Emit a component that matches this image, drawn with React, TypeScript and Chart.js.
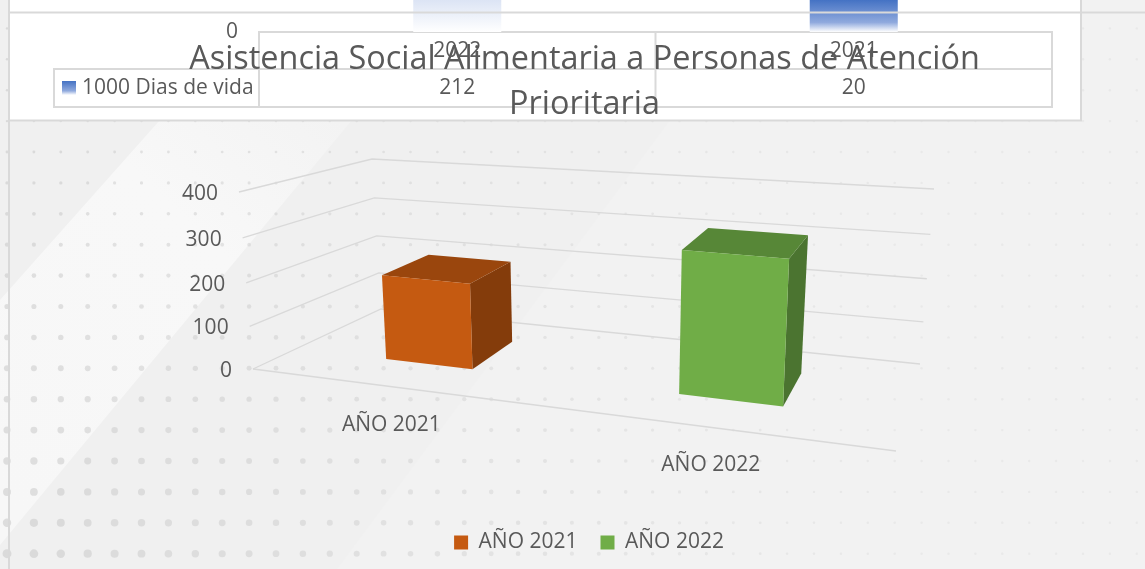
import React, { useEffect, useRef } from "react";
import { Chart, registerables, BarController, BarElement } from "chart.js";

Chart.register(...registerables);

// ---- data ----
const categories = ["AÑO 2021", "AÑO 2022"];
const attendance = [200, 315];
const barColors = ["#c55a11", "#70ad47"];
const titleLines = ["Asistencia Social Alimentaria a Personas de Atención", "Prioritaria"];
const valueMax = 400;
const valueStep = 100;

const tableSeries = "1000 Dias de vida";
const tableYears = ["2022", "2021"];
const tableValues = [212, 20];

const FONT = '"Open Sans", sans-serif';
const TEXT = "#595959";
const LINE = "#d9d9d9";

// ---- perspective box of the 3D plot ----
type P = [number, number];
const floorFL: P = [253, 369], floorFR: P = [896, 451], floorBL: P = [381, 309], floorBR: P = [920, 364];
const topFL: P = [239, 192], topFR: P = [908, 245], topBL: P = [372, 159], topBR: P = [934, 189];
const lerp = (a: P, b: P, t: number): P => [a[0] + (b[0] - a[0]) * t, a[1] + (b[1] - a[1]) * t];
const perspU = (u: number) => (0.83 * u) / (1 - 0.17 * u);
const perspV = (v: number) => (0.95 * v) / (1 - 0.05 * v);
function project(u: number, v: number, w: number): P {
  const pu = perspU(u);
  const low = lerp(lerp(floorFL, floorFR, pu), lerp(floorBL, floorBR, pu), w);
  const high = lerp(lerp(topFL, topFR, pu), lerp(topBL, topBR, pu), w);
  return lerp(low, high, perspV(v));
}
const DEPTH_FRONT = 0.345;
const DEPTH_BACK = 0.75;

function shade(hex: string, f: number) {
  const n = parseInt(hex.slice(1), 16);
  return `rgb(${Math.round((n >> 16) * f)},${Math.round(((n >> 8) & 255) * f)},${Math.round((n & 255) * f)})`;
}
function poly(ctx: CanvasRenderingContext2D, pts: P[], fill: any) {
  ctx.beginPath();
  pts.forEach((p, i) => (i ? ctx.lineTo(p[0], p[1]) : ctx.moveTo(p[0], p[1])));
  ctx.closePath();
  ctx.fillStyle = fill;
  ctx.fill();
}

class Bar3DElement extends BarElement {
  static id = "bar3d";
  static defaults = BarElement.defaults;
  static defaultRoutes = BarElement.defaultRoutes;
  draw(ctx: CanvasRenderingContext2D, area?: any) {
    const self = this as any;
    const uL = (self.x - self.width / 2 - area.left) / area.width;
    const uR = (self.x + self.width / 2 - area.left) / area.width;
    const v = (area.bottom - self.y) / area.height;
    const v0 = (area.bottom - self.base) / area.height;
    const color = self.options.backgroundColor as string;
    const fbl = project(uL, v0, DEPTH_FRONT), fbr = project(uR, v0, DEPTH_FRONT);
    const ftl = project(uL, v, DEPTH_FRONT), ftr = project(uR, v, DEPTH_FRONT);
    const bbr = project(uR, v0, DEPTH_BACK);
    const btl = project(uL, v, DEPTH_BACK), btr = project(uR, v, DEPTH_BACK);
    poly(ctx, [ftr, btr, bbr, fbr], shade(color, 0.67));
    poly(ctx, [ftl, btl, btr, ftr], shade(color, 0.78));
    poly(ctx, [ftl, ftr, fbr, fbl], color);
  }
}
class Bar3DController extends BarController {
  static id = "bar3d";
  static defaults = { ...BarController.defaults, dataElementType: "bar3d" };
  static overrides = BarController.overrides;
  draw() {
    const self = this as any;
    self._cachedMeta.data.forEach((el: any) => el.draw(self._ctx, self.chart.chartArea));
  }
}
Chart.register(Bar3DElement as any, Bar3DController as any);

// ---- painted backdrop, panel and data-table frame ----
const TABLE = { left: 259, mid: 655.5, right: 1052, keyLeft: 54, rows: [32, 69, 107] };
const backdrop = {
  id: "backdrop",
  beforeDraw(chart: any) {
    const ctx = chart.ctx as CanvasRenderingContext2D;
    const W = chart.width, H = chart.height;
    ctx.save();
    ctx.fillStyle = "#f0f0f0";
    ctx.fillRect(0, 0, W, H);
    poly(ctx, [[670, 120], [1081, 120], [1081, 0], [W, 0], [W, H], [337, H]], "#f2f2f2");
    const g = ctx.createLinearGradient(0, 500, 350, 130);
    g.addColorStop(0, "#f7f7f7");
    g.addColorStop(0.65, "#f8f8f8");
    g.addColorStop(1, "#f3f3f3");
    poly(ctx, [[160, 120], [352, 120], [0, 545], [0, 300]], g);
    for (let k = -5; k < 14; k++) {
      for (let i = 0; i < 43; i++) {
        const x = 7 + 26.9 * i, y = 152 + 30.9 * k;
        const ty = Math.max(0, Math.min(1, (y - 120) / 450));
        const tx = Math.max(0, 1 - x / 800);
        const r = 1.2 + 3.4 * ty * tx;
        ctx.fillStyle = `rgba(190,190,190,${0.17 + 0.27 * Math.max(0, 1 - x / 900)})`;
        ctx.beginPath();
        ctx.arc(x, y, r, 0, Math.PI * 2);
        ctx.fill();
      }
    }
    ctx.fillStyle = "#ffffff";
    ctx.fillRect(9, 0, 1072, 120);
    ctx.strokeStyle = LINE;
    ctx.lineWidth = 2;
    ctx.beginPath();
    ctx.moveTo(9, 0); ctx.lineTo(9, H);
    ctx.moveTo(8, 120.5); ctx.lineTo(1082, 120.5);
    ctx.moveTo(1081, 0); ctx.lineTo(1081, 121);
    const t = TABLE;
    t.rows.forEach((r) => { ctx.moveTo(t.left, r); ctx.lineTo(t.right, r); });
    ctx.moveTo(t.keyLeft, t.rows[1]); ctx.lineTo(t.left, t.rows[1]);
    ctx.moveTo(t.keyLeft, t.rows[2]); ctx.lineTo(t.left, t.rows[2]);
    ctx.moveTo(t.keyLeft, t.rows[1] - 1); ctx.lineTo(t.keyLeft, t.rows[2] + 1);
    [t.left, t.mid, t.right].forEach((c) => { ctx.moveTo(c, t.rows[0] - 1); ctx.lineTo(c, t.rows[2] + 1); });
    ctx.stroke();
    ctx.restore();
  },
  afterLayout(chart: any) {
    chart.titleBlock.left += 24;
    chart.legend.left += 33;
    chart.legend.top -= 6;
  },
  beforeDatasetsDraw(chart: any) {
    const ctx = chart.ctx as CanvasRenderingContext2D;
    const { x, y } = chart.scales;
    const area = chart.chartArea;
    ctx.save();
    ctx.strokeStyle = LINE;
    ctx.lineWidth = 1.3;
    ctx.font = `21px ${FONT}`;
    ctx.fillStyle = TEXT;
    ctx.textBaseline = "middle";
    y.ticks.forEach((t: any) => {
      const v = (area.bottom - y.getPixelForValue(t.value)) / area.height;
      const a = project(0, v, 0), b = project(0, v, 1), c = project(1, v, 1);
      ctx.beginPath();
      ctx.moveTo(a[0], a[1]); ctx.lineTo(b[0], b[1]); ctx.lineTo(c[0], c[1]);
      ctx.stroke();
      ctx.textAlign = "right";
      ctx.fillText(String(t.label), a[0] - 21, a[1] + 2);
    });
    const fl = project(0, 0, 0), fr = project(1, 0, 0);
    ctx.beginPath();
    ctx.moveTo(fl[0], fl[1]); ctx.lineTo(fr[0], fr[1]);
    ctx.stroke();
    ctx.textAlign = "center";
    x.ticks.forEach((t: any, i: number) => {
      const u = (x.getPixelForTick(i) - area.left) / area.width;
      const p = project(u, 0, 0);
      ctx.fillText(String(x.getLabelForValue(t.value)), p[0] - 1, p[1] + 38);
    });
    ctx.restore();
  },
};

// ---- the clipped data-table chart along the top ----
const tablePlugin = {
  id: "tablePlugin",
  afterDraw(chart: any) {
    const ctx = chart.ctx as CanvasRenderingContext2D;
    const { x, y } = chart.scales;
    const a = chart.chartArea;
    ctx.save();
    ctx.strokeStyle = LINE;
    ctx.lineWidth = 2;
    ctx.beginPath();
    ctx.moveTo(9, 12.5); ctx.lineTo(chart.width, 12.5);
    ctx.stroke();
    ctx.font = `21px ${FONT}`;
    ctx.fillStyle = TEXT;
    ctx.textBaseline = "middle";
    ctx.textAlign = "right";
    ctx.fillText("0", a.left - 21, y.getPixelForValue(0));
    ctx.textAlign = "center";
    tableYears.forEach((lab, i) => {
      const px = x.getPixelForValue(i);
      ctx.fillText(lab, px, 51);
      ctx.fillText(String(tableValues[i]), px, 88);
    });
    ctx.textAlign = "left";
    ctx.fillText(tableSeries, 82, 88);
    const g = ctx.createLinearGradient(0, 81, 0, 95);
    g.addColorStop(0, "#4472c4");
    g.addColorStop(0.7, "#8fa9dd");
    g.addColorStop(1, "#ffffff");
    ctx.fillStyle = g;
    ctx.fillRect(62, 81, 14, 14);
    ctx.restore();
  },
};

export default function App() {
  const mainRef = useRef<HTMLCanvasElement>(null);
  const topRef = useRef<HTMLCanvasElement>(null);

  useEffect(() => {
    const main = new Chart(mainRef.current!, {
      type: "bar3d" as any,
      data: {
        labels: categories,
        datasets: [{
          data: attendance,
          backgroundColor: barColors,
          barPercentage: 0.314,
          categoryPercentage: 1,
          clip: false,
        } as any],
      },
      plugins: [backdrop],
      options: {
        animation: false,
        responsive: false,
        devicePixelRatio: 1,
        layout: { padding: 0 },
        scales: {
          x: { type: "category", display: false },
          y: { type: "linear", display: false, min: 0, max: valueMax, ticks: { stepSize: valueStep } },
        },
        plugins: {
          tooltip: { enabled: false },
          title: {
            display: true,
            text: titleLines,
            color: TEXT,
            font: { family: FONT, size: 32.4, weight: "normal", lineHeight: 1.39 },
            padding: { top: 37, bottom: 0 },
          },
          legend: {
            position: "bottom",
            labels: {
              color: TEXT,
              font: { family: FONT, size: 21 },
              boxWidth: 14,
              boxHeight: 14,
              padding: 23,
              generateLabels: (chart: any) =>
                chart.data.labels.map((text: string, i: number) => ({
                  text,
                  fillStyle: chart.data.datasets[0].backgroundColor[i],
                  strokeStyle: "transparent",
                  lineWidth: 0,
                  fontColor: TEXT,
                  index: i,
                })),
            },
          },
        },
      } as any,
    });

    const top = new Chart(topRef.current!, {
      type: "bar",
      data: {
        labels: tableYears,
        datasets: [{
          label: tableSeries,
          data: tableValues,
          barPercentage: 0.222,
          categoryPercentage: 1,
          backgroundColor: (c: any) => {
            const y = c.chart.scales?.y;
            const v = c.parsed?.y;
            const y0 = y && v !== undefined ? y.getPixelForValue(v) : NaN;
            const y1 = y ? y.getPixelForValue(0) : NaN;
            if (!Number.isFinite(y0) || !Number.isFinite(y1)) return "#4472c4";
            const g = c.chart.ctx.createLinearGradient(0, y0, 0, y1);
            g.addColorStop(0, "#4472c4");
            g.addColorStop(0.7, "#8fa9dd");
            g.addColorStop(1, "#ffffff");
            return g;
          },
        }],
      },
      plugins: [tablePlugin],
      options: {
        animation: false,
        responsive: false,
        devicePixelRatio: 1,
        layout: { padding: { left: 259, right: 93, top: 0, bottom: 88 } },
        scales: {
          x: { type: "category", display: false },
          y: { type: "linear", display: false, min: 0, max: 20 },
        },
        plugins: { legend: { display: false }, title: { display: false }, tooltip: { enabled: false } },
      } as any,
    });

    return () => {
      main.destroy();
      top.destroy();
    };
  }, []);

  return (
    <div style={{ position: "absolute", left: 0, top: 0, width: 1145, height: 569, overflow: "hidden" }}>
      <canvas ref={mainRef} width={1145} height={569} style={{ position: "absolute", left: 0, top: 0, display: "block" }} />
      <canvas ref={topRef} width={1145} height={120} style={{ position: "absolute", left: 0, top: 0, display: "block" }} />
    </div>
  );
}
